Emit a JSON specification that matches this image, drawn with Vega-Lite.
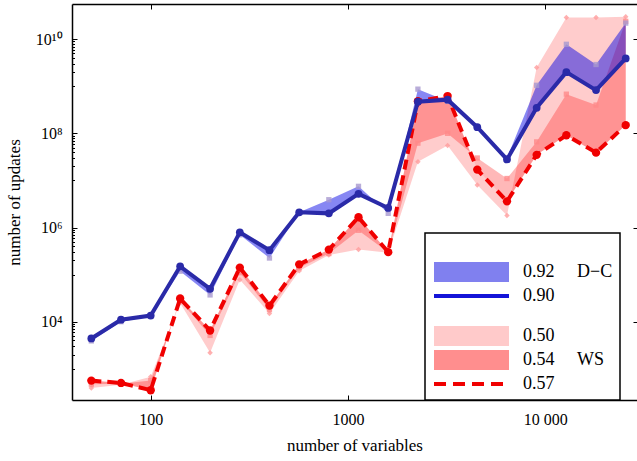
{
  "$schema": "https://vega.github.io/schema/vega-lite/v6.json",
  "width": 565,
  "height": 396,
  "autosize": "none",
  "padding": {"left": 72, "top": 4, "right": 0, "bottom": 61},
  "background": "white",
  "config": {
    "view": {"stroke": null},
    "font": "Liberation Serif",
    "axis": {"grid": false, "domainColor": "black", "domainWidth": 1.5, "tickColor": "black", "tickWidth": 1, "labelColor": "black", "titleColor": "black", "labelFont": "Liberation Serif", "titleFont": "Liberation Serif", "titleFontWeight": "normal"}
  },
  "data": {"values": [
    {"n": 50, "dc90": 4400, "dc92": 3900, "ws57": 560, "ws54": 470, "ws50": 390},
    {"n": 70.7, "dc90": 11000, "dc92": 10000, "ws57": 500, "ws54": 480, "ws50": 460},
    {"n": 100, "dc90": 13500, "dc92": 13000, "ws57": 350, "ws54": 560, "ws50": 680},
    {"n": 141, "dc90": 150000, "dc92": 118000, "ws57": 31000, "ws54": 28000, "ws50": 25000},
    {"n": 200, "dc90": 50000, "dc92": 37000, "ws57": 6500, "ws54": 5100, "ws50": 2200},
    {"n": 283, "dc90": 790000, "dc92": 700000, "ws57": 141000, "ws54": 110000, "ws50": 78000},
    {"n": 400, "dc90": 330000, "dc92": 225000, "ws57": 22000, "ws54": 18000, "ws50": 15000},
    {"n": 566, "dc90": 2100000, "dc92": 2100000, "ws57": 165000, "ws54": 140000, "ws50": 120000},
    {"n": 800, "dc90": 2000000, "dc92": 3900000, "ws57": 340000, "ws54": 280000, "ws50": 260000},
    {"n": 1131, "dc90": 5200000, "dc92": 7500000, "ws57": 1650000, "ws54": 870000, "ws50": 340000},
    {"n": 1600, "dc90": 2600000, "dc92": 2000000, "ws57": 300000, "ws54": 300000, "ws50": 290000},
    {"n": 2263, "dc90": 470000000, "dc92": 870000000, "ws57": 480000000, "ws54": 62000000, "ws50": 25000000},
    {"n": 3200, "dc90": 520000000, "dc92": 480000000, "ws57": 620000000, "ws54": 100000000, "ws50": 55000000},
    {"n": 4525, "dc90": 135000000, "dc92": 135000000, "ws57": 17000000, "ws54": 30000000, "ws50": 8000000},
    {"n": 6400, "dc90": 28000000, "dc92": 30000000, "ws57": 3600000, "ws54": 11000000, "ws50": 1800000},
    {"n": 9051, "dc90": 350000000, "dc92": 1050000000, "ws57": 35000000, "ws54": 66000000, "ws50": 2500000000},
    {"n": 12800, "dc90": 2000000000, "dc92": 7800000000, "ws57": 91000000, "ws54": 680000000, "ws50": 29000000000},
    {"n": 18102, "dc90": 830000000, "dc92": 2900000000, "ws57": 39000000, "ws54": 400000000, "ws50": 29000000000},
    {"n": 25600, "dc90": 3900000000, "dc92": 22000000000, "ws57": 150000000, "ws54": 24000000000, "ws50": 30000000000}
  ]},
  "layer": [
    {
      "encoding": {
        "x": {"field": "n", "type": "quantitative", "scale": {"type": "log", "domain": [39.9, 29200], "nice": false},
          "axis": {"orient": "bottom", "values": [100, 1000, 10000], "labelExpr": "datum.value >= 10000 ? '10 000' : datum.value >= 1000 ? '1000' : '100'", "tickSize": -5, "labelPadding": 16, "labelFontSize": 16, "title": "number of variables", "titleFontSize": 17, "titlePadding": 10, "domain": true}}
      },
      "layer": [
        {"mark": {"type": "area", "color": "#ff0000", "opacity": 0.2},
          "encoding": {
            "y": {"field": "ws57", "type": "quantitative", "scale": {"type": "log", "domain": [217, 56000000000], "nice": false},
              "axis": {"orient": "left", "values": [10000, 1000000, 100000000, 10000000000], "labelExpr": "datum.value == 10000 ? '10⁴' : datum.value == 1000000 ? '10⁶' : datum.value == 100000000 ? '10⁸' : '10¹⁰'", "tickSize": -5, "labelPadding": 15, "labelFontSize": 16, "title": "number of updates", "titleFontSize": 17, "titlePadding": 12, "domain": true}},
            "y2": {"field": "ws50"}
          }},
        {"mark": {"type": "area", "color": "#ff0000", "opacity": 0.28},
          "encoding": {
            "y": {"field": "ws57", "type": "quantitative", "scale": {"type": "log", "domain": [217, 56000000000], "nice": false}, "title": "number of updates"},
            "y2": {"field": "ws54"}
          }},
        {"mark": {"type": "area", "color": "#0000e6", "opacity": 0.47},
          "encoding": {
            "y": {"field": "dc90", "type": "quantitative", "scale": {"type": "log", "domain": [217, 56000000000], "nice": false}, "title": "number of updates"},
            "y2": {"field": "dc92"}
          }},
        {"mark": {"type": "point", "shape": "diamond", "filled": true, "size": 30, "color": "#ff9c9c", "opacity": 0.8},
          "encoding": {"y": {"field": "ws50", "type": "quantitative", "scale": {"type": "log", "domain": [217, 56000000000], "nice": false}, "title": "number of updates"}}},
        {"mark": {"type": "square", "size": 28, "color": "#ff8a8a", "opacity": 0.8},
          "encoding": {"y": {"field": "ws54", "type": "quantitative", "scale": {"type": "log", "domain": [217, 56000000000], "nice": false}, "title": "number of updates"}}},
        {"mark": {"type": "square", "size": 28, "color": "#a898d0", "opacity": 0.8},
          "encoding": {"y": {"field": "dc92", "type": "quantitative", "scale": {"type": "log", "domain": [217, 56000000000], "nice": false}, "title": "number of updates"}}},
        {"mark": {"type": "line", "color": "#f00000", "strokeWidth": 4, "strokeDash": [10, 6]},
          "encoding": {
            "y": {"field": "ws57", "type": "quantitative", "scale": {"type": "log", "domain": [217, 56000000000], "nice": false}, "title": "number of updates"}
          }},
        {"mark": {"type": "circle", "size": 70, "color": "#f00000", "opacity": 1},
          "encoding": {"y": {"field": "ws57", "type": "quantitative", "scale": {"type": "log", "domain": [217, 56000000000], "nice": false}, "title": "number of updates"}}},
        {"mark": {"type": "line", "color": "#2a2aa8", "strokeWidth": 4},
          "encoding": {
            "y": {"field": "dc90", "type": "quantitative", "scale": {"type": "log", "domain": [217, 56000000000], "nice": false}, "title": "number of updates"}
          }},
        {"mark": {"type": "circle", "size": 60, "color": "#2a2aa8", "opacity": 1},
          "encoding": {"y": {"field": "dc90", "type": "quantitative", "scale": {"type": "log", "domain": [217, 56000000000], "nice": false}, "title": "number of updates"}}},
        {"mark": {"type": "point", "filled": true, "size": 0, "opacity": 0},
          "encoding": {
            "y": {"field": "dc90", "type": "quantitative", "scale": {"type": "log", "domain": [217, 56000000000], "nice": false}, "title": "number of updates"},
            "color": {"datum": "0.92", "type": "nominal",
              "scale": {"domain": ["0.92", "0.90", " ", "0.50", "0.54", "0.57"], "range": ["#8080ef", "#1414d8", "transparent", "#ffcaca", "#ff8e8e", "#f00000"]},
              "legend": {
                "orient": "none", "legendX": 353, "legendY": 229,
                "title": " ", "titleFontSize": 12, "titlePadding": 8,
                "strokeColor": "black", "fillColor": "white", "padding": 7, "rowPadding": 2,
                "symbolSize": 400, "symbolStrokeWidth": 4, "symbolOpacity": 1, "labelOffset": 67,
                "symbolType": "M-1,-1H6.5V1H-1Z",
                "labelFont": "Liberation Serif", "labelFontSize": 18, "labelColor": "black",
                "labelExpr": "datum.value === '0.92' ? '0.92\u00a0\u00a0\u00a0\u00a0\u00a0D\u2212C\u00a0\u00a0' : datum.value === '0.54' ? '0.54\u00a0\u00a0\u00a0\u00a0\u00a0WS' : datum.value === ' ' ? '' : datum.value",
                "encode": {
                  "legend": {"update": {"strokeWidth": {"value": 1.5}}},
                  "labels": {"update": {"fontSize": {"signal": "datum.value === ' ' ? 2 : 18"}}},
                  "symbols": {"update": {
                    "shape": {"signal": "datum.value === '0.90' || datum.value === '0.57' ? 'M-1,0H6.5' : datum.value === ' ' ? 'M-1,-0.3H6.5V0.3H-1Z' : 'M-1,-1H6.5V1H-1Z'"},
                    "stroke": {"signal": "datum.value === '0.90' ? '#1414d8' : datum.value === '0.57' ? '#f00000' : null"},
                    "strokeDash": {"signal": "datum.value === '0.57' ? [12, 7] : [1, 0]"},
                    "strokeJoin": {"value": "round"},
                    "strokeCap": {"value": "butt"}
                  }}
                }
              }}
          }}
      ]
    },
    {
      "mark": {"type": "point", "opacity": 0, "size": 0},
      "encoding": {
        "x": {"field": "n", "type": "quantitative", "scale": {"type": "log", "domain": [39.9, 29200], "nice": false},
          "axis": {"orient": "top", "values": [100, 1000, 10000], "labels": false, "tickSize": -5, "title": null, "domain": true}},
        "y": {"field": "dc90", "type": "quantitative", "scale": {"type": "log", "domain": [217, 56000000000], "nice": false},
          "axis": {"orient": "right", "values": [10000, 1000000, 100000000, 10000000000], "labels": false, "tickSize": -4, "title": null, "domain": false}}
      }
    },
    {
      "mark": {"type": "point", "opacity": 0, "size": 0},
      "encoding": {
        "x": {"field": "n", "type": "quantitative", "scale": {"type": "log", "domain": [39.9, 29200], "nice": false}, "axis": null},
        "y": {"field": "dc90", "type": "quantitative", "scale": {"type": "log", "domain": [217, 56000000000], "nice": false},
          "axis": {"orient": "left", "values": [1000, 2000, 3000, 4000, 5000, 6000, 7000, 8000, 9000, 100000, 200000, 300000, 400000, 500000, 600000, 700000, 800000, 900000, 10000000, 20000000, 30000000, 40000000, 50000000, 60000000, 70000000, 80000000, 90000000, 1000000000, 2000000000, 3000000000, 4000000000, 5000000000, 6000000000, 7000000000, 8000000000, 9000000000], "labels": false, "tickSize": -2.5, "title": null, "domain": false}}
      }
    }
  ],
  "resolve": {"axis": {"x": "independent", "y": "independent"}}
}
